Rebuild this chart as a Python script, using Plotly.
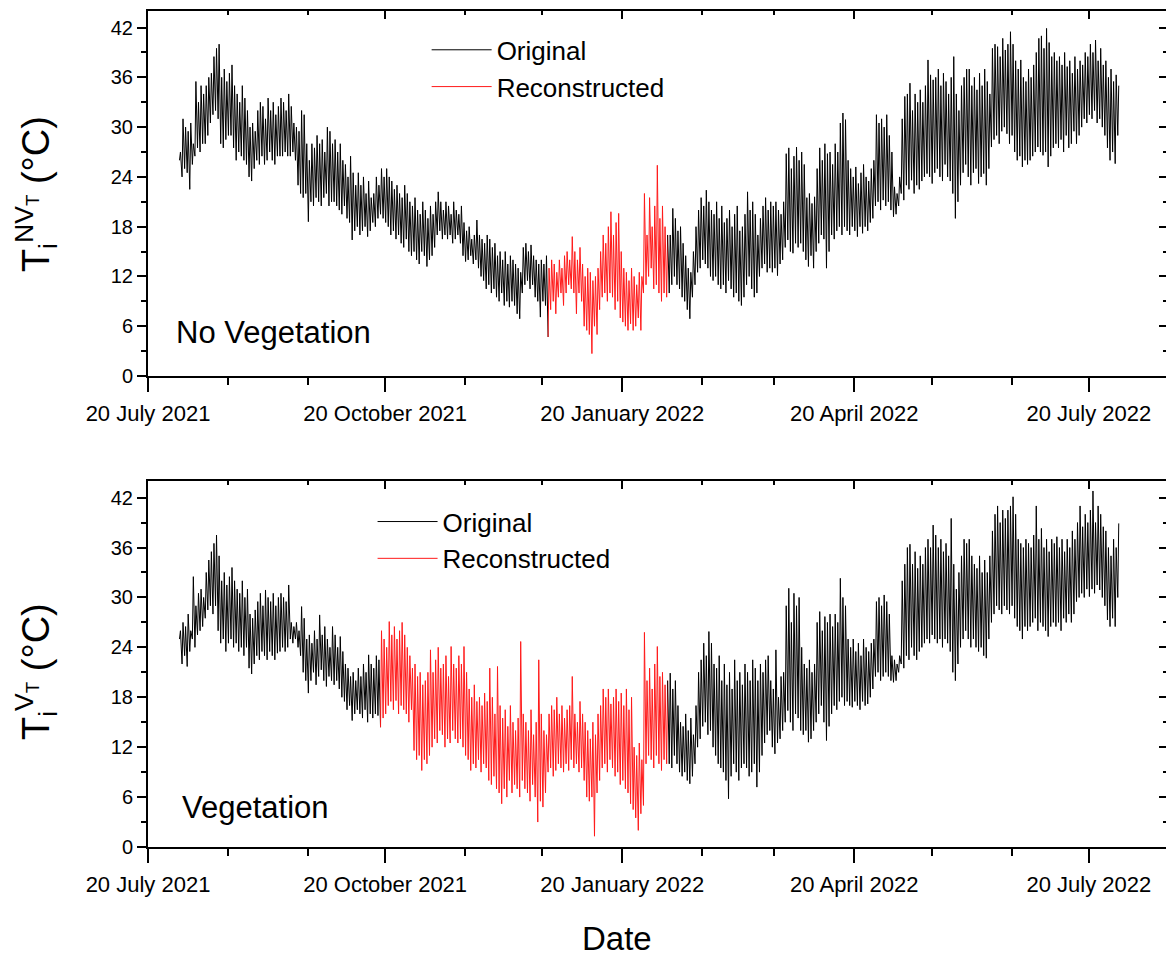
import pandas as pd
import plotly.graph_objects as go

# ---------------- data (daily minimum / maximum) ----------------
first_day = "2021-08-01"           # first day with measurements
nv_recon_period = ("2021-12-22", "2022-02-06")   # reconstructed part, No Vegetation
v_recon_period = ("2021-10-18", "2022-02-06")    # reconstructed part, Vegetation

nv_daily_max = [
    27, 31, 30, 29.5, 30.5, 28, 35.5, 33, 35, 34,
    35, 36, 36.5, 38.5, 39.5, 40, 36, 37, 35.5, 36.5,
    37.5, 35, 34, 33, 35, 33.5, 32, 30, 30.5, 29.5,
    32, 33, 32.5, 31, 33.5, 32, 33, 31.5, 32.5, 33.5,
    33, 32, 34, 32.5, 30.5, 30, 29.5, 32, 31.5, 28,
    26, 28, 27.5, 29, 28, 28.5, 27, 30, 29.5, 28,
    28.5, 27, 28, 26, 25.5, 24, 26.5, 24.5, 23, 24.5,
    23, 24, 22, 23.5, 21.5, 22, 24, 23, 25, 24,
    25, 24, 23.5, 22.5, 23, 22, 21.5, 23, 22, 21,
    20.5, 21.5, 20, 19.5, 21, 20, 19, 20.5, 19.5, 21,
    22.2, 21, 20, 21, 20.5, 19.5, 21, 20, 19.5, 20.5,
    18.5, 17.5, 18, 16.5, 17, 18.8, 17, 16.5, 16, 17,
    16.5, 15.5, 16, 14.5, 15, 14, 15, 13.5, 14.5, 14,
    13.5, 13, 12.5, 15.5, 16, 15, 15.8, 14.5, 14, 13.5,
    14, 13.5, 14.5, 13, 14, 13.5, 12.5, 14, 13, 14.5,
    15, 14, 16.8, 15, 14, 15.5, 13.5, 12, 13, 12.5,
    11.5, 12, 13, 15, 17, 16, 18, 19.8, 17, 18.5,
    19.6, 15, 13, 12.5, 11.5, 13, 12, 11, 12.5, 12,
    22, 17, 21.5, 18, 20.5, 25.4, 19, 20.5, 18, 17,
    17, 20.2, 19, 17.5, 18, 16, 14.5, 13, 12.5, 15,
    18, 20, 21.5, 20.5, 22.4, 21, 20, 19.5, 21, 19,
    20.5, 18.5, 19, 20, 18, 19.5, 20.5, 17.5, 18, 19.5,
    22.2, 20, 21, 19.5, 17, 19, 20.5, 21.5, 20, 21,
    20.5, 21, 20, 19.5, 21, 26.8, 27.5, 25, 26.5, 27.6,
    26, 27, 25.5, 21.5, 22, 20.8, 21.6, 25, 27.5, 26,
    28, 26.8, 27, 25.5, 28, 27, 30.5, 31.7, 30.9, 26,
    25, 24, 25.2, 23.2, 24.5, 25.5, 24, 23.5, 25, 26,
    31.5, 30.5, 31, 30, 31.5, 29, 27, 22.8, 22, 24,
    31, 33.7, 34, 35.3, 32, 34, 33, 34.5, 33, 35,
    38.1, 36.3, 35.7, 36, 37, 35, 36.5, 35.5, 34, 36,
    38.5, 34, 32, 35, 36, 37, 37, 35, 36, 34.5,
    36.5, 35, 37, 35.5, 34, 39.5, 40, 39.7, 38.5, 40.7,
    39.3, 40, 41.5, 40, 38, 37, 38.1, 36, 35.5, 37,
    36, 37.5, 39, 40.7, 41, 39.5, 41.9, 40.2, 38.5, 39,
    38, 38.5, 37.5, 39, 37.3, 38, 36.5, 38.5, 37, 38,
    37.5, 39, 38.5, 40, 39, 40.5, 38, 39.5, 37.5, 38,
    36, 37, 35.5, 36.3, 35,
]
nv_daily_min = [
    26, 24, 25, 24.5, 22.5, 25.5, 26.5, 27.5, 27, 28,
    28, 29, 30.5, 31.5, 32, 31, 28, 27.5, 28.5, 29,
    29, 27.5, 26, 27, 26.5, 26, 25.5, 24, 23.5, 25,
    26, 25.5, 26.5, 25.5, 26, 27, 26, 25.5, 26.5, 26.5,
    26.5, 27, 26.5, 26.5, 27, 26, 23, 22, 21.5, 22,
    18.6, 21, 20.5, 21.5, 21, 20.5, 21.5, 22, 20.5, 21,
    21, 20.5, 20, 19.5, 20.5, 19, 18.5, 16.4, 17.5, 18,
    17, 17.5, 18, 16.8, 17.5, 18.5, 18, 19, 19.5, 19,
    18.5, 18, 17, 17.5, 16.5, 17, 16, 15.5, 16.5, 15,
    14.5, 15, 14, 13.5, 15, 14.5, 13.2, 14, 14.5, 15.5,
    17, 17.5, 16.5, 17, 16.5, 17, 16, 16.5, 17, 16,
    14.5, 13.8, 14, 14.5, 13.5, 14, 13, 12, 11.5, 10.5,
    11, 10, 10.5, 9.5, 9, 10, 8.5, 9, 8.3, 9,
    8.5, 7.5, 6.9, 10, 11, 11.5, 10.5, 11, 9.5, 9,
    7.1, 9, 8.5, 4.7, 8, 9, 7.5, 9.5, 10, 8.5,
    10, 11, 10.5, 10, 7.5, 10, 9, 6, 5.5, 5,
    2.7, 6, 5, 8, 9.5, 10, 9, 10, 9.5, 8,
    9, 7, 6.5, 6, 5.5, 6.3, 5.5, 6, 7, 5.5,
    10, 11, 12, 13, 10.5, 11, 10, 9, 10, 9.5,
    10, 11, 12, 11, 10.5, 9.5, 9, 8, 6.9, 9.5,
    11, 12.5, 13, 14, 13.5, 13, 12, 11.5, 12, 11,
    10.5, 11, 10, 11.5, 10.5, 9.5, 10, 9, 8.5, 9.5,
    11, 12, 10.5, 9.5, 10, 12, 13, 13.5, 12.5, 13,
    12.5, 13, 12.1, 13.5, 14, 15.5, 16.4, 15, 14.8, 16,
    15.5, 16, 15, 14, 13.2, 14.5, 13, 15, 16, 17,
    16.5, 13, 15, 17, 16.5, 17.5, 18, 17, 18, 17.5,
    17, 18, 17.5, 16.8, 18, 17.2, 18, 17.5, 18.5, 19,
    20.5, 21, 20, 21.2, 20.5, 21, 20, 19.2, 19.5, 20.5,
    22, 21.2, 23, 22.5, 23.6, 22, 23, 22.5, 23.5, 24,
    24.4, 24, 23.2, 24.5, 25, 24, 23.5, 25.5, 24, 23.5,
    22, 19, 21, 23, 24.5, 25.5, 24, 23, 24.5, 25,
    23.2, 24, 24.4, 23, 25, 27.6, 28.5, 29, 28, 29.5,
    30, 29.2, 28, 29, 27, 26, 26.5, 25.2, 26, 25.5,
    26, 26.5, 27, 27.6, 27, 26.6, 27, 25.2, 26.5, 27.5,
    28, 27.5, 28.5, 27, 29, 27.5, 28, 29.5, 28, 29,
    30, 31, 30.5, 31.5, 31, 32, 30.5, 31, 30, 29,
    27.5, 26, 27, 25.6, 29,
]

v_daily_max = [
    26, 27, 26.5, 28, 26, 32.5, 29, 30.5, 31, 30,
    33, 34.5, 35.5, 36.5, 37.5, 35, 32, 33, 31.5, 32.5,
    33.6, 32, 31, 30.5, 32, 30, 31, 28, 27.5, 28.5,
    29.5, 30.5, 29, 30.9, 30, 29.5, 30.5, 29, 30, 30.5,
    30, 29.5, 31.5, 27, 26.5, 27, 26, 28.9, 27.5, 25,
    25.5, 24.5, 26, 25, 27.9, 25.5, 26.5, 25, 24, 26.5,
    25.5, 24, 25.3, 23.5, 22, 21.5, 20.5, 21, 20, 21.5,
    20.5, 22, 21, 23.1, 22, 21.5, 23, 22.5, 26, 25,
    24, 27.1, 25.5, 26.5, 25, 26, 27, 25.5, 24, 23,
    21.5, 22, 20.5, 21, 19.5, 20, 21, 23.7, 21, 22.5,
    24, 21.5, 22, 23, 20.5, 24.1, 22, 21.5, 23, 22,
    24.1, 21, 19, 18, 19.5, 17.5, 18, 17, 18.5, 17.5,
    21.5, 18, 16, 21.7, 17, 15.5, 16.5, 14.5, 17, 15,
    14, 15.5, 24.7, 16, 15, 14, 16.5, 13.5, 15, 22.5,
    16, 14, 13.5, 16, 17, 16.5, 18, 16, 17, 15.5,
    16.5, 17, 20.5, 16, 15, 17.5, 16, 15, 14, 13,
    15, 13.5, 16, 17, 19, 18, 19, 17.2, 18, 19,
    17.5, 18.5, 17, 19, 16.5, 18, 12, 11, 12.5, 10.5,
    25.8, 20, 21.5, 19, 22, 24.1, 20.5, 21, 19.5, 20,
    20.9, 19, 20, 17, 15, 14.5, 16, 14, 15.5, 13.5,
    17, 21, 22.5, 24.5, 23, 25.9, 24.5, 22, 21.5, 23,
    20, 22, 19.5, 21, 19, 22.5, 20, 21, 19.5, 22,
    21, 20, 22.5, 21.5, 20, 22, 21, 22.5, 23, 20,
    19, 23.7, 18, 20.5, 21, 29, 31.1, 27, 30.5, 29,
    30, 24, 22, 21.5, 22.5, 21, 22, 27, 28.3, 26,
    27.7, 27, 28, 26.5, 28, 27, 32.3, 30, 29, 25,
    24, 25, 23.5, 24.5, 23, 25, 24, 23.5, 24.5, 25,
    29.5, 30, 29, 30.3, 29.5, 28, 23, 22.5, 22, 23,
    32, 34, 36, 36.4, 34, 35.5, 33.5, 35, 34, 36,
    37, 36, 38.7, 37.5, 36, 37, 35.5, 36.5, 35, 39.5,
    34, 31, 33, 35, 37, 36.5, 37, 35, 34, 33.5,
    35, 33, 34.5, 33, 35, 38, 40, 41, 39, 40.5,
    39.5, 40.5, 41, 42.1, 40, 37, 36.5, 36, 37, 36.5,
    36, 37.5, 41, 37, 38.3, 36, 37, 35.5, 37, 36.5,
    37.3, 36, 37, 35.5, 37, 36, 38, 37, 39, 41,
    38.5, 40, 39, 40.5, 42.8, 39, 41, 40, 38.5, 38,
    36, 35, 37, 36, 38.9,
]
v_daily_min = [
    25, 22, 23, 21.7, 23.5, 25, 24, 25.5, 26, 26.5,
    27.5, 28.5, 29, 28, 29, 26, 24.5, 25, 23.5, 24.5,
    25, 24, 24.5, 23.5, 24, 23, 24, 21.5, 20.8, 22,
    23, 22.5, 23.5, 23, 22.5, 23.5, 23, 22.5, 23.3, 23.5,
    24, 23.5, 24, 25, 24.5, 25, 24, 23, 21, 20,
    18.5, 20, 21, 19.5, 20.5, 21.3, 20, 19.3, 20.5, 20,
    19.5, 20, 19, 18, 17.5, 16.5, 17, 15.2, 16, 16.5,
    16, 15.5, 16.5, 15, 16, 15.5, 16, 15.8, 14.4, 15.5,
    16, 17, 17.5, 16.5, 17.6, 16, 17, 16.5, 16, 15,
    16.5, 11.6, 10.5, 11, 9.2, 10.5, 10, 11, 12, 13,
    12.5, 14, 13.5, 12, 13, 12.5, 14, 13, 12.5, 13,
    12, 11, 10.5, 9.2, 10, 9.5, 10.5, 9, 10, 9.5,
    8, 7.5, 8.5, 7, 6.5, 5.2, 7, 6, 8, 6.5,
    7.5, 7, 6, 8, 7, 6.5, 5.5, 7.5, 6, 3.0,
    5.5, 4.8, 6.5, 9, 9.5, 8.5, 9.2, 10, 9.5, 9,
    10, 9.2, 10.5, 9.5, 10, 9, 9.5, 8, 6, 5.5,
    6, 1.3, 6.5, 8, 9.5, 10, 9, 10.5, 9.5, 8.5,
    9, 7.5, 8, 7, 6.5, 5.2, 4.5, 3.5, 2, 4,
    5, 10, 11, 10.5, 9.5, 11, 10, 9.2, 10.5, 10,
    10, 9.5, 11, 10, 9, 8.5, 9, 8, 7.6, 8.5,
    10, 12, 13, 14.5, 15, 13.5, 14, 12, 11, 10,
    9.5, 9, 8, 5.8, 8.5, 10, 9, 8, 9.5, 10,
    9.5, 8.5, 9, 10, 7.2, 9, 11, 12.5, 13.5, 14,
    12, 11.2, 12.5, 13, 14, 15, 16.4, 15, 14, 16,
    15.5, 14, 13.5, 14, 12.6, 13, 14, 15, 16, 17,
    15, 12.8, 14.5, 16, 17, 16.5, 17.5, 18, 17, 17.5,
    17, 16.8, 17.5, 17, 16.5, 17.5, 17, 17.2, 18, 19,
    20.5, 21, 20, 20.5, 21, 20.5, 20, 19.8, 20, 21,
    22, 21.5, 23, 22.5, 24, 23, 22.5, 23.5, 24, 24.5,
    25, 24.5, 25.5, 25, 24.5, 25, 24, 25, 24.5, 23.5,
    21, 20, 22, 24, 25, 26, 25, 24, 25, 24,
    23.5, 24, 23, 22.7, 25, 27, 28, 29, 28.5, 28,
    29, 28.5, 28, 29, 27.5, 26.5, 26, 25, 26.5, 26,
    26.5, 27, 27.5, 26, 27, 26.5, 26, 25.3, 26.5, 27,
    26.5, 27, 26, 27.5, 27, 28, 27, 28, 29.5, 30,
    30.5, 30, 31, 30.1, 31, 30.5, 31.5, 30.9, 30, 29,
    27.3, 26.5, 27.5, 26.5, 30,
]

x_range = ["2021-07-20", "2022-08-18 22:00"]
tick_start = "2021-07-20"


# ---------------- helpers ----------------
def daily_cycle(mx, mn):
    days = pd.date_range(first_day, periods=len(mx), freq="D")
    t, v = [], []
    for d, lo, hi in zip(days, mn, mx):
        t += [d + pd.Timedelta(hours=5), d + pd.Timedelta(hours=14)]
        v += [lo, hi]
    return t, v


def split(t, v, period):
    s = pd.Timestamp(period[0])
    e = pd.Timestamp(period[1]) + pd.Timedelta(days=1)
    inside = [i for i, x in enumerate(t) if s <= x < e]
    i0, i1 = inside[0], inside[-1]
    return (t[:i0 + 1], v[:i0 + 1]), (t[i0:i1 + 1], v[i0:i1 + 1]), (t[i1:], v[i1:])


fig = go.Figure()


def add_panel(mx, mn, period, xa, ya, legend):
    t, v = daily_cycle(mx, mn)
    before, recon, after = split(t, v, period)
    fig.add_trace(go.Scatter(x=before[0], y=before[1], mode="lines", name="Original",
                             line=dict(color="black", width=1), xaxis=xa, yaxis=ya,
                             legend=legend, legendgroup=legend + "o"))
    fig.add_trace(go.Scatter(x=recon[0], y=recon[1], mode="lines", name="Reconstructed",
                             line=dict(color="#ff1a1a", width=1), xaxis=xa, yaxis=ya,
                             legend=legend, legendgroup=legend + "r"))
    fig.add_trace(go.Scatter(x=after[0], y=after[1], mode="lines", name="Original",
                             line=dict(color="black", width=1), xaxis=xa, yaxis=ya,
                             legend=legend, legendgroup=legend + "o", showlegend=False))


add_panel(nv_daily_max, nv_daily_min, nv_recon_period, "x", "y", "legend")
add_panel(v_daily_max, v_daily_min, v_recon_period, "x2", "y2", "legend2")

# empty traces so the inward-tick frame axes are drawn
fig.add_trace(go.Scatter(x=[], y=[], xaxis="x3", yaxis="y3", showlegend=False, hoverinfo="skip"))
fig.add_trace(go.Scatter(x=[], y=[], xaxis="x4", yaxis="y4", showlegend=False, hoverinfo="skip"))

top_dom = [0.5634, 1.0]
bot_dom = [0.0, 0.4378]

xfont = dict(family="Liberation Sans Narrow, Arial Narrow, sans-serif", size=22, color="black")
yfont = dict(family="Liberation Sans, Arial, sans-serif", size=20, color="black")


def xaxis_main(anchor):
    return dict(type="date", range=x_range, domain=[0, 1], anchor=anchor,
                showgrid=False, zeroline=False, showline=True, linecolor="black",
                linewidth=2, mirror=True, ticks="outside", ticklen=14, tickwidth=2,
                tickcolor="black", tick0=tick_start, dtick="M3", tickformat="%d %B %Y",
                tickfont=xfont, ticklabelstandoff=3,
                minor=dict(ticks="outside", ticklen=7, tickwidth=2, tickcolor="black",
                           dtick="M1", tick0=tick_start, showgrid=False))


def xaxis_top(over, anchor):
    return dict(type="date", range=x_range, overlaying=over, anchor=anchor, side="top",
                showgrid=False, zeroline=False, showline=False, ticks="inside",
                ticklen=8, tickwidth=2, tickcolor="black", tick0=tick_start, dtick="M3",
                showticklabels=False,
                minor=dict(ticks="inside", ticklen=4, tickwidth=2, tickcolor="black",
                           dtick="M1", tick0=tick_start, showgrid=False))


def yaxis_main(dom, anchor):
    return dict(range=[0, 44], domain=dom, anchor=anchor, showgrid=False, zeroline=False,
                showline=True, linecolor="black", linewidth=2, ticks="outside",
                ticklen=9, tickwidth=2, tickcolor="black", tick0=0, dtick=6,
                tickfont=yfont,
                minor=dict(ticks="outside", ticklen=5, tickwidth=2, tickcolor="black",
                           tick0=0, dtick=3, showgrid=False))


def yaxis_right(over, anchor):
    return dict(range=[0, 44], overlaying=over, anchor=anchor, side="right",
                showgrid=False, zeroline=False, showline=False, ticks="inside",
                ticklen=7, tickwidth=2, tickcolor="black", tick0=0, dtick=6,
                showticklabels=False,
                minor=dict(ticks="inside", ticklen=3, tickwidth=2, tickcolor="black",
                           tick0=0, dtick=3, showgrid=False))


legend_font = dict(family="Liberation Sans, Arial, sans-serif", size=26, color="black")

fig.update_layout(
    width=1166, height=965,
    margin=dict(l=148, r=0, t=11, b=118),
    paper_bgcolor="white", plot_bgcolor="white",
    xaxis=xaxis_main("y"), yaxis=yaxis_main(top_dom, "x"),
    xaxis2=xaxis_main("y2"), yaxis2=yaxis_main(bot_dom, "x2"),
    xaxis3=xaxis_top("x", "y"), yaxis3=yaxis_right("y", "x"),
    xaxis4=xaxis_top("x2", "y2"), yaxis4=yaxis_right("y2", "x2"),
    legend=dict(x=0.2737, y=0.9816, xanchor="left", yanchor="top", bgcolor="rgba(0,0,0,0)",
                font=legend_font, itemwidth=60, tracegroupgap=0),
    legend2=dict(x=0.2206, y=0.4173, xanchor="left", yanchor="top", bgcolor="rgba(0,0,0,0)",
                 font=legend_font, itemwidth=60, tracegroupgap=0),
    showlegend=True,
)

title_font = dict(family="Liberation Sans, Arial, sans-serif", size=38, color="black")
fig.add_annotation(text="T<sub>i</sub><sup>NV<sub>T</sub></sup> (°C)", textangle=-90,
                   xref="paper", yref="paper", x=-0.110, y=0.781, xanchor="center",
                   yanchor="middle", showarrow=False, font=title_font)
fig.add_annotation(text="T<sub>i</sub><sup>V<sub>T</sub></sup> (°C)", textangle=-90,
                   xref="paper", yref="paper", x=-0.110, y=0.2093, xanchor="center",
                   yanchor="middle", showarrow=False, font=title_font)
fig.add_annotation(text="Date", xref="paper", yref="paper", x=0.4607, y=-0.1089,
                   xanchor="center", yanchor="middle", showarrow=False,
                   font=dict(family="Liberation Sans, Arial, sans-serif", size=33, color="black"))
fig.add_annotation(text="No Vegetation", xref="x domain", yref="y domain", x=0.026, y=0.118,
                   xanchor="left", yanchor="middle", showarrow=False,
                   font=dict(family="Liberation Sans, Arial, sans-serif", size=31, color="black"))
fig.add_annotation(text="Vegetation", xref="x2 domain", yref="y2 domain", x=0.031, y=0.109,
                   xanchor="left", yanchor="middle", showarrow=False,
                   font=dict(family="Liberation Sans, Arial, sans-serif", size=31, color="black"))

fig.write_html("out.html", config={"displayModeBar": False})
